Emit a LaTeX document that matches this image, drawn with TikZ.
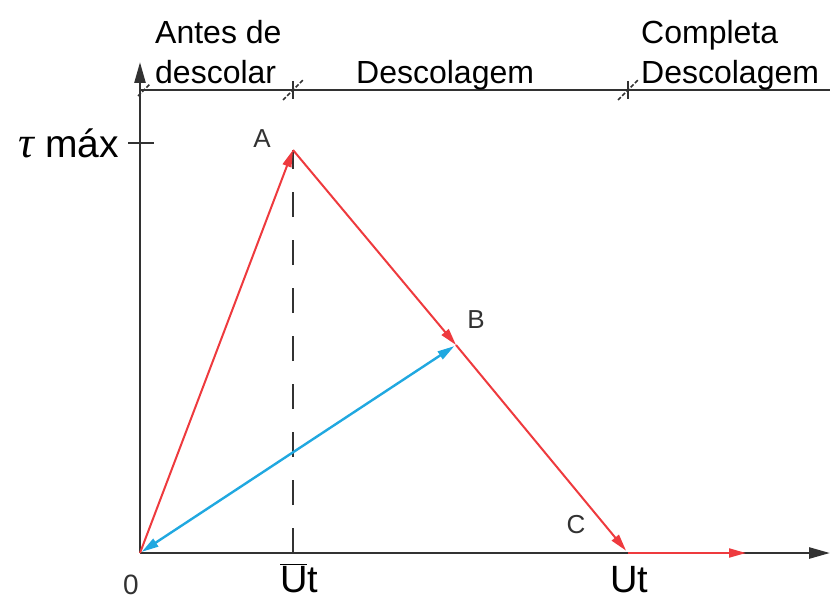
\documentclass[tikz,border=0pt]{standalone}
\usepackage{fontspec}
\setmainfont{Liberation Sans}
\newfontfamily\taufont{Liberation Serif}
\usetikzlibrary{arrows.meta,positioning}
\definecolor{vecred}{RGB}{238,58,62}
\definecolor{vecblue}{RGB}{32,168,224}
\definecolor{axisgray}{RGB}{50,50,50}

\begin{document}
\begin{tikzpicture}[x=1pt, y=-1pt,
    axis/.style={draw=axisgray, line width=2.6pt, -{Triangle[length=21pt,width=11pt]}},
    rule/.style={draw=axisgray, line width=2pt},
    tick/.style={draw=axisgray, line width=1.6pt},
    vec/.style={draw=vecred, line width=2pt, -{Triangle[length=17pt,width=9pt]}},
    back/.style={draw=vecblue, line width=2.4pt, {Triangle[length=17pt,width=9pt]}-{Triangle[length=17pt,width=9pt]}},
    zone/.style={font=\fontsize{32}{40}\selectfont, align=left, inner sep=0pt},
    pt/.style={font=\fontsize{26}{28}\selectfont, text=axisgray, inner sep=0pt},
    val/.style={font=\fontsize{38}{44}\selectfont, inner sep=0pt}
]
\useasboundingbox (0,0) rectangle (830,602);

% points of the path
\coordinate (O) at (140,553);
\coordinate (A) at (293,150);
\coordinate (B) at (456,345);
\coordinate (C) at (628,553);
\coordinate (D) at (746,553);
\coordinate (Ubar) at (293,553);
\coordinate (xend) at (830,553);
\coordinate (yend) at (140,62);
\coordinate (tau) at (140,143);

% top scale
\coordinate (t0) at (140,90);
\coordinate (t1) at (293,90);
\coordinate (t2) at (628,90);
\coordinate (tend) at (830,90);

% axes
\draw[axis] (O) -- (xend);
\draw[axis] (O) -- (yend);
\draw[rule] (t0) -- (tend);
\foreach \t in {t1,t2} {
  \draw[tick] (\t) ++(0,-9) -- ++(0,18);
  \draw[tick, dash pattern=on 4pt off 2pt] (\t) ++(-10,10) -- ++(20,-20);
}
\draw[tick, dash pattern=on 4pt off 2pt] (t0) ++(-2,6) -- ++(12,-12);
\draw[tick] (tau) ++(-12,0) -- ++(26,0);
\draw[tick, line width=2.4pt, dash pattern=on 25pt off 23pt] (Ubar) -- (A);

% vectors
\draw[vec] (O) -- (A);
\draw[vec] (A) -- (B);
\draw[vec, shorten >=3pt] (B) -- (C);
\draw[vec] (C) -- (D);
\draw[back, shorten <=2pt, shorten >=2pt] (B) -- (O);

% labels
\node[zone, anchor=north west] (z1) at (155,20) {Antes de\\descolar};
\node[zone, anchor=base west] (z2) at (356,83) {Descolagem};
\node[zone, anchor=north west] (z3) at (641,20) {Completa\\Descolagem};

\node[val, font=\fontsize{39}{44}\selectfont, anchor=base east] (ltau) at (119,157) {{\taufont\itshape\fontsize{44}{44}\selectfont τ} máx};
\node[pt] (lA) at (262,139) {A};
\node[pt] (lB) at (476,320) {B};
\node[pt] (lC) at (576,525) {C};
\node[pt, font=\fontsize{28}{30}\selectfont] (lO) at (131,585) {0};
\node[val, anchor=base] (lUbar) at (299,592) {$\overline{\hbox{U}}$t};
\node[val, anchor=base] (lUt) at (629,592) {Ut};
\end{tikzpicture}
\end{document}
